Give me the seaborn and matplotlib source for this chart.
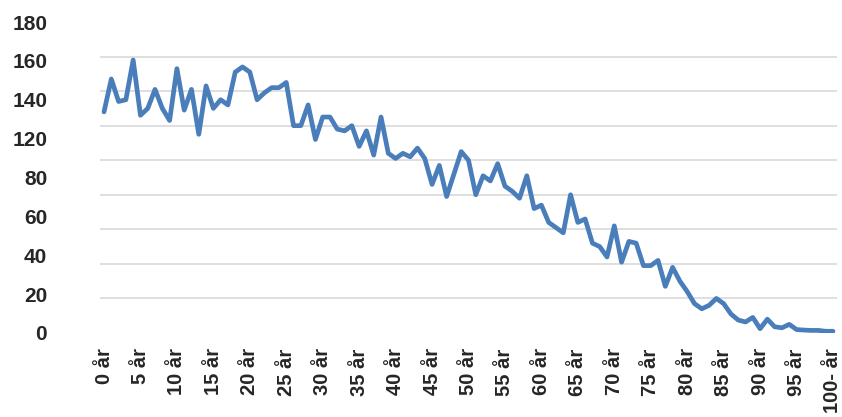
import numpy as np
import pandas as pd
import matplotlib
matplotlib.use('Agg')
import matplotlib.pyplot as plt
import seaborn as sns

sns.set_style("white")
plt.rcParams['font.family'] = ['Liberation Sans', 'DejaVu Sans']

# age categories 0 år .. 99 år, 100- år
ages = [f"{i} år" for i in range(100)] + ["100- år"]

counts = [
    128, 147, 134, 135, 158, 126, 130, 141, 130, 123,
    153, 129, 141, 115, 143, 130, 135, 132, 151, 154,
    151, 135, 139, 142, 142, 145, 120, 120, 132, 112,
    125, 125, 118, 117, 120, 108, 117, 103, 125, 104,
    101, 104, 102, 107, 101, 86, 97, 79, 92, 105,
    100, 80, 91, 88, 98, 85, 82, 78, 91, 72,
    74, 64, 61, 58, 80, 64, 66, 52, 50, 44,
    62, 41, 53, 52, 39, 39, 42, 27, 38, 30,
    24, 17, 14, 16, 20, 17, 11, 7.5, 6.4, 9,
    2.5, 8, 3.6, 3, 5, 2, 1.7, 1.5, 1.5, 1,
    1,
]

ytick_pos = np.linspace(0, 180, 9)
ytick_labels = ['0', '20', '40', '60', '80', '120', '140', '160', '180']
grid_levels = np.arange(0, 181, 20)

df = pd.DataFrame({'pos': np.arange(len(ages)), 'age': ages, 'count': counts})

fig = plt.figure(figsize=(8.42, 4.17), dpi=100)
ax = fig.add_axes([100 / 842, (417 - 333) / 417, 737 / 842, 311 / 417])

# horizontal gridlines
ax.set_yticks(grid_levels, minor=True)
ax.grid(True, which='minor', axis='y', color='#d9d9d9', linewidth=1.2)
ax.set_axisbelow(True)

sns.lineplot(data=df, x='pos', y='count', ax=ax, color='#4a7ebb', linewidth=3.4,
             solid_joinstyle='round', solid_capstyle='round')

ax.set_xlim(-0.55, 100.55)
ax.set_ylim(0, 180)

ax.set_xticks(df['pos'][::5])
ax.set_xticklabels(df['age'][::5], rotation=90, fontsize=14.5, fontweight='bold')
ax.set_yticks(ytick_pos)
ax.set_yticklabels(ytick_labels, fontsize=15, fontweight='bold')
ax.tick_params(axis='y', which='both', length=0, pad=38)
ax.tick_params(axis='x', length=0, pad=11)
ax.set_xlabel('')
ax.set_ylabel('')
for s in ax.spines.values():
    s.set_visible(False)

fig.savefig('out.png', dpi=100)
